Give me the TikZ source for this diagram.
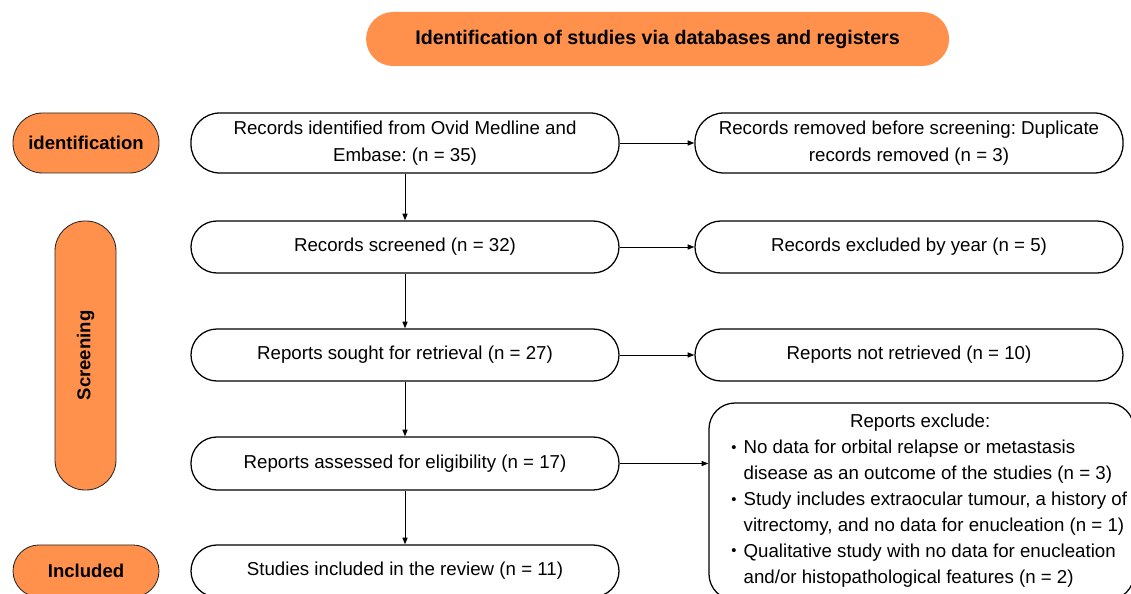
\documentclass[tikz,border=0pt]{standalone}
\usepackage{fontspec}
\setmainfont{Liberation Sans}
\frenchspacing
\usetikzlibrary{arrows.meta,positioning}
\definecolor{prisma}{HTML}{FF914D}
\definecolor{ink}{HTML}{000000}
\definecolor{paper}{HTML}{FFFFFF}
\newcommand{\reasonmark}{\raisebox{0.15ex}{\fontsize{10.5}{10.5}\selectfont•}}
\tikzset{
  phase/.style={
    rectangle,
    fill=prisma,
    draw=ink!85,
    line width=0.6pt,
    align=center,
    text=ink,
    font=\fontsize{13.2}{16}\selectfont\bfseries
  },
  stepbox/.style={
    rectangle,
    rounded corners=0.65cm,
    draw=ink,
    line width=0.9pt,
    fill=paper,
    align=center,
    minimum width=10.7cm,
    minimum height=1.3cm,
    inner sep=2pt,
    font=\fontsize{13.3}{19.2}\selectfont
  },
  tallbox/.style={
    stepbox,
    minimum height=1.5cm,
    rounded corners=0.72cm
  },
  flow/.style={
    -{Triangle[length=1.7mm,width=1.3mm]},
    draw=ink,
    line width=0.7pt
  }
}

\begin{document}
\begin{tikzpicture}
  \useasboundingbox (0,0) rectangle (28.275,-14.85);
  \clip (0,0) rectangle (28.275,-14.85);

  %====================================================================
  % Banner and phase labels
  %====================================================================
  \node[phase, draw=none, rounded corners=0.675cm,
        minimum width=14.575cm, minimum height=1.35cm,
        font=\fontsize{14}{16}\selectfont\bfseries]
    (banner) at (16.44,-0.975) {Identification of studies via databases and registers};

  \node[phase, rounded corners=0.74cm, minimum width=3.65cm, minimum height=1.5cm]
    (ident) at (2.15,-3.575) {identification};

  \node[phase, rotate=90, rounded corners=0.75cm, minimum width=6.725cm, minimum height=1.525cm]
    (screen) at (2.1375,-8.8875) {Screening};

  \node[phase, rounded corners=0.65cm, minimum width=3.65cm, minimum height=1.3cm]
    (incl) at (2.15,-14.275) {Included};

  %====================================================================
  % Main flow -- left column
  %====================================================================
  \node[tallbox] (found)    at (10.125,-3.575)
    {Records identified from Ovid Medline and\\Embase: (n = 35)};
  \node[stepbox] (screened) at (10.125,-6.175)  {Records screened (n = 32)};
  \node[stepbox] (sought)   at (10.125,-8.875)  {Reports sought for retrieval (n = 27)};
  \node[stepbox, minimum height=1.325cm]
                 (assessed) at (10.125,-11.5875) {Reports assessed for eligibility (n = 17)};
  \node[stepbox] (included) at (10.125,-14.275) {Studies included in the review (n = 11)};

  %====================================================================
  % Exclusions -- right column
  %====================================================================
  \node[tallbox] (dupes)     at (22.725,-3.575)
    {Records removed before screening: Duplicate\\records removed (n = 3)};
  \node[stepbox] (byyear)    at (22.725,-6.175) {Records excluded by year (n = 5)};
  \node[stepbox] (notfound)  at (22.725,-8.875) {Reports not retrieved (n = 10)};
  \node[stepbox, minimum width=10.625cm, minimum height=4.925cm]
                 (excluded)  at (23.0375,-12.5375) {};

  \node[anchor=west, inner sep=0pt, font=\fontsize{13.3}{18.4}\selectfont]
    (reasons) at (18.275,-12.51) {%
    \begin{tabular}{@{}l@{\hspace{0.18cm}}l@{}}
      \multicolumn{2}{@{}c@{\hspace{0.45cm}}}{Reports exclude:}\\
      \reasonmark & No data for orbital relapse or metastasis\\
        & disease as an outcome of the studies (n = 3)\\
      \reasonmark & Study includes extraocular tumour, a history of\\
        & vitrectomy, and no data for enucleation (n = 1)\\
      \reasonmark & Qualitative study with no data for enucleation\\
        & and/or histopathological features (n = 2)
    \end{tabular}};

  %====================================================================
  % Connectors
  %====================================================================
  \draw[flow] (found.south)    -- (screened.north);
  \draw[flow] (screened.south) -- (sought.north);
  \draw[flow] (sought.south)   -- (assessed.north);
  \draw[flow] (assessed.south) -- (included.north);

  \draw[flow] (found.east)    -- (dupes.west);
  \draw[flow] (screened.east) -- (byyear.west);
  \draw[flow] (sought.east)   -- (notfound.west);
  \draw[flow] (assessed.east) -- (assessed.east -| excluded.west);

\end{tikzpicture}
\end{document}
